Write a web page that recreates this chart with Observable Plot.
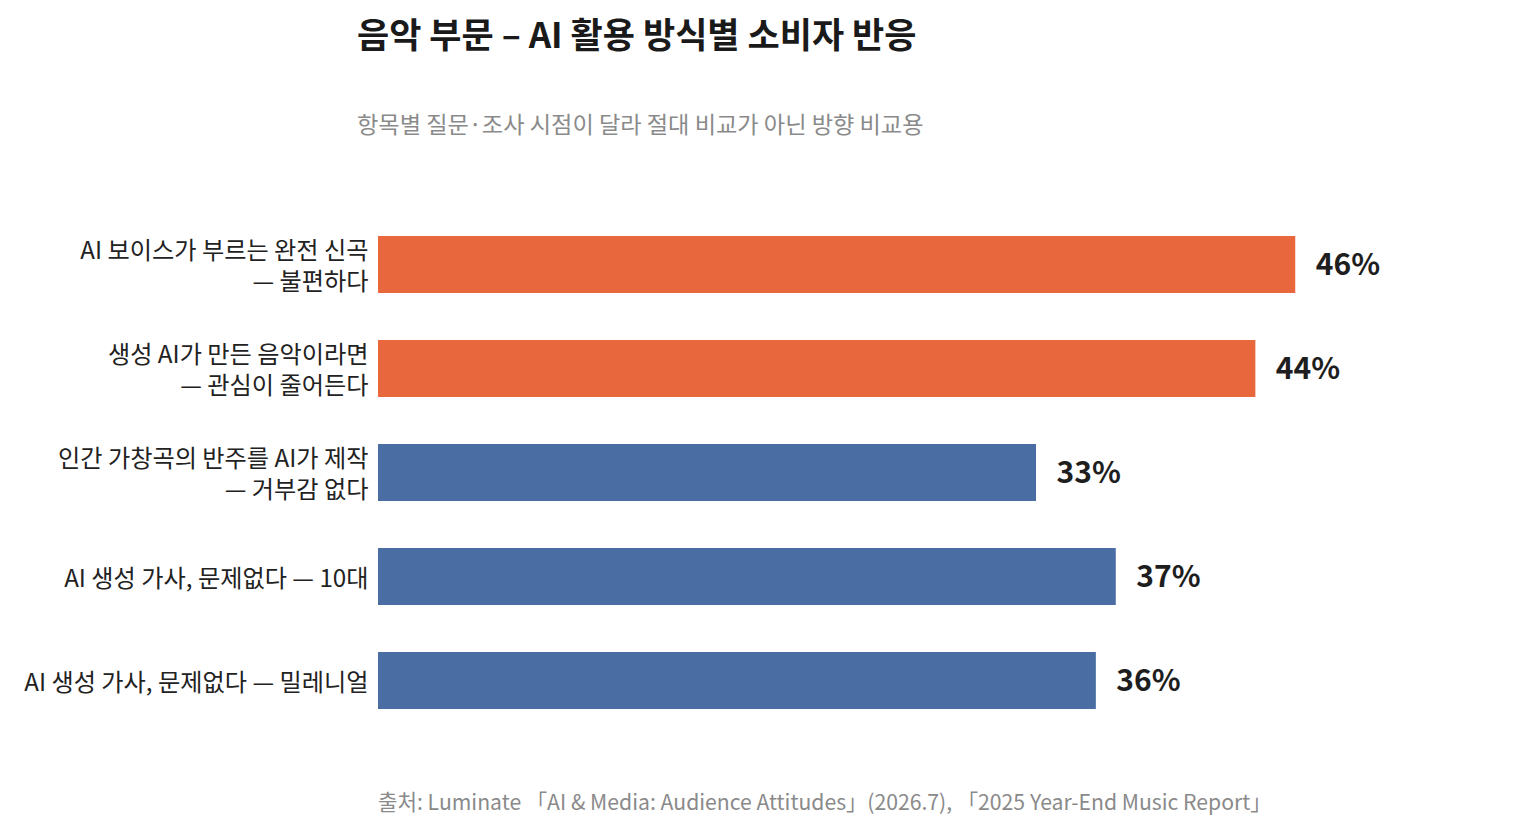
<!DOCTYPE html>
<html>
<head>
<meta charset="utf-8">
<script src="https://cdn.jsdelivr.net/npm/d3@7"></script>
<script src="https://cdn.jsdelivr.net/npm/@observablehq/plot@0.6"></script>
<style>
  html, body { margin: 0; padding: 0; background: #fff; }
  body { width: 1513px; height: 833px; position: relative; overflow: hidden;
         font-family: "Noto Sans CJK KR", "Noto Sans", sans-serif; }
  #title { position: absolute; left: 357px; top: 7px; font-size: 35px; font-weight: 700; color: #1a1a1a; white-space: nowrap; }
  #subtitle { position: absolute; left: 357px; top: 106px; font-size: 23.2px; color: #8a8a8a; white-space: nowrap; }
  #chart { position: absolute; left: 0; top: 160px; }
  #caption { position: absolute; left: 378px; top: 785px; font-size: 21.2px; color: #8a8a8a; white-space: nowrap; }
</style>
</head>
<body>
<div id="title">음악 부문 – AI 활용 방식별 소비자 반응</div>
<div id="subtitle">항목별 질문·조사 시점이 달라 절대 비교가 아닌 방향 비교용</div>
<div id="chart"></div>
<div id="caption">출처: Luminate 「AI &amp; Media: Audience Attitudes」(2026.7), 「2025 Year-End Music Report」</div>
<script>
const categories = [
  "AI 보이스가 부르는 완전 신곡\n— 불편하다",
  "생성 AI가 만든 음악이라면\n— 관심이 줄어든다",
  "인간 가창곡의 반주를 AI가 제작\n— 거부감 없다",
  "AI 생성 가사, 문제없다 — 10대",
  "AI 생성 가사, 문제없다 — 밀레니얼"
];
const values = [46, 44, 33, 37, 36];
const groups = ["부정", "부정", "수용", "수용", "수용"];
const valueLabels = values.map(v => v + "%");

const data = categories.map((c, i) => ({category: c, value: values[i], group: groups[i], label: valueLabels[i]}));

const chart = Plot.plot({
  width: 1513,
  height: 638,
  marginLeft: 378,
  marginRight: 138,
  marginTop: 28,
  marginBottom: 40,
  style: {fontFamily: '"Noto Sans CJK KR", "Noto Sans", sans-serif', background: "#fff"},
  x: {domain: [0, 50], axis: null},
  y: {domain: categories, padding: 0.45, label: null},
  color: {domain: ["부정", "수용"], range: ["#E8673D", "#4A6EA4"]},
  marks: [
    Plot.barX(data, {x: "value", y: "category", fill: "group"}),
    Plot.text(data, {x: "value", y: "category", text: "label", textAnchor: "start", dx: 20,
      fontSize: 30, fontWeight: 700, fill: "#1e1e1e"}),
    Plot.axisY({tickSize: 0, tickPadding: 10, fontSize: 24.2, lineHeight: 1.28, fill: "#222", label: null})
  ]
});
document.getElementById("chart").appendChild(chart);
</script>
</body>
</html>
